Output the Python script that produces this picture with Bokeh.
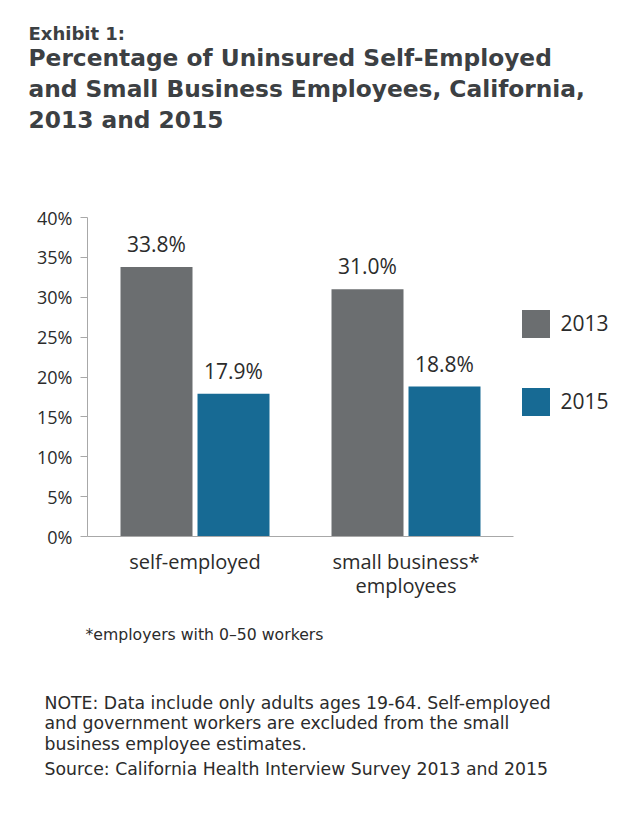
from bokeh.plotting import figure
from bokeh.models import (Range1d, FixedTicker, PrintfTickFormatter,
                          Title, Legend, LegendItem, ColumnDataSource)
from bokeh.transform import dodge
from bokeh.embed import file_html
from bokeh.resources import INLINE
from bokeh.core.properties import value

# ---- data ----
categories = ["self-employed", "small business*\nemployees"]
years = ["2013", "2015"]
values_2013 = [33.8, 31.0]
values_2015 = [17.9, 18.8]
y_ticks = [0, 5, 10, 15, 20, 25, 30, 35, 40]

exhibit = "Exhibit 1:"
title_lines = ["Percentage of Uninsured Self-Employed",
               "and Small Business Employees, California,",
               "2013 and 2015"]
footnote = "*employers with 0\u201350 workers"
note_lines = ["NOTE: Data include only adults ages 19-64. Self-employed",
              "and government workers are excluded from the small",
              "business employee estimates."]
source_line = "Source: California Health Interview Survey 2013 and 2015"

# ---- styling ----
GRAY = "#6b6e70"
BLUE = "#176a94"
TXT = "#2b2b2b"
TITLE_C = "#3c4043"
AXIS_C = "#a8a8a8"
FONT = "Open Sans"
TFONT = "DejaVu Sans"
NOTE_FONT = "DejaVu Sans"
FRAME_LEFT = 87
PX_PER_CAT = 211.0
X0 = -0.0095
X1 = X0 + 543 / PX_PER_CAT
AXIS_END = X0 + 426 / PX_PER_CAT
OFF = 38.5 / PX_PER_CAT
W = 72 / PX_PER_CAT

pos = [i + 0.5 for i in range(len(categories))]
src = ColumnDataSource(dict(
    x=pos,
    v2013=values_2013,
    v2015=values_2015,
    t2013=[f"{v:.1f}%" for v in values_2013],
    t2015=[f"{v:.1f}%" for v in values_2015],
))

p = figure(width=640, height=813, output_backend="svg", toolbar_location=None,
           x_range=Range1d(X0, X1), y_range=Range1d(0, 40),
           min_border_left=FRAME_LEFT, min_border_right=10, min_border_top=217,
           min_border_bottom=277, title=None)
p.outline_line_color = None
p.grid.visible = False

r13 = p.vbar(x=dodge("x", -OFF), top="v2013", width=W,
             source=src, fill_color=GRAY, line_color=None)
r15 = p.vbar(x=dodge("x", OFF), top="v2015", width=W,
             source=src, fill_color=BLUE, line_color=None)

for vcol, tcol, off in (("v2013", "t2013", -OFF), ("v2015", "t2015", OFF)):
    p.text(x=dodge("x", off), y=vcol, text=tcol,
           source=src, text_align="center", text_baseline="alphabetic",
           y_offset=-23, text_font=value(FONT), text_font_size="21px",
           text_color=TXT)

ya = p.yaxis[0]
ya.ticker = FixedTicker(ticks=y_ticks)
ya.formatter = PrintfTickFormatter(format="%d%%")
ya.axis_line_color = AXIS_C
ya.major_tick_line_color = AXIS_C
ya.major_tick_out = 7
ya.major_tick_in = 0
ya.minor_tick_line_color = None
ya.major_label_text_font = FONT
ya.major_label_text_font_size = "18px"
ya.major_label_text_color = TXT
ya.major_label_standoff = 8

xa = p.xaxis[0]
xa.bounds = (X0, AXIS_END)
xa.ticker = FixedTicker(ticks=pos)
xa.major_label_overrides = {x: c for x, c in zip(pos, categories)}
xa.axis_line_color = AXIS_C
xa.major_tick_line_color = None
xa.minor_tick_line_color = None
xa.major_label_text_font = FONT
xa.major_label_text_font_size = "20px"
xa.major_label_text_line_height = 0.92
xa.major_label_text_color = TXT
xa.major_label_standoff = 5

legend = Legend(items=[LegendItem(label=years[0], renderers=[r13]),
                       LegendItem(label=years[1], renderers=[r15])],
                location=(430.5, 117.5), orientation="vertical",
                glyph_width=35, glyph_height=35, label_height=35, spacing=43,
                label_standoff=8, padding=0, margin=0, border_line_color=None,
                background_fill_alpha=0, label_text_font=FONT,
                label_text_font_size="21px", label_text_color=TXT)
p.add_layout(legend, "center")


def add_title(txt, x, side, size, font, color, style="normal", standoff=0.0):
    p.add_layout(Title(text=txt, align="left", offset=x - FRAME_LEFT,
                       text_font=font, text_font_size=size, text_color=color,
                       text_font_style=style, standoff=standoff), side)


# above: first added sits nearest the frame
add_title(" ", 28, "above", "10px", TFONT, TITLE_C, "normal", 71)   # gap
add_title(title_lines[2], 28, "above", "23.3px", TFONT, TITLE_C, "bold", 2)
add_title(title_lines[1], 28, "above", "23.3px", TFONT, TITLE_C, "bold", 2)
add_title(title_lines[0], 28, "above", "23.3px", TFONT, TITLE_C, "bold", 2)
add_title(exhibit, 28, "above", "18px", TFONT, TITLE_C, "bold", -6)

# below: first added sits nearest the frame (after the x axis)
add_title(footnote, 85, "below", "15.7px", NOTE_FONT, TXT, standoff=40)
add_title(" ", 44, "below", "10px", NOTE_FONT, TXT, standoff=16.4)        # gap
add_title(note_lines[0], 44, "below", "17.3px", NOTE_FONT, TXT, standoff=-2.8)
add_title(note_lines[1], 44, "below", "17.3px", NOTE_FONT, TXT, standoff=-0.8)
add_title(note_lines[2], 44, "below", "17.3px", NOTE_FONT, TXT, standoff=-0.8)
add_title(source_line, 44, "below", "17.3px", NOTE_FONT, TXT, standoff=8.2)

open("out.html", "w").write(file_html(p, INLINE))
